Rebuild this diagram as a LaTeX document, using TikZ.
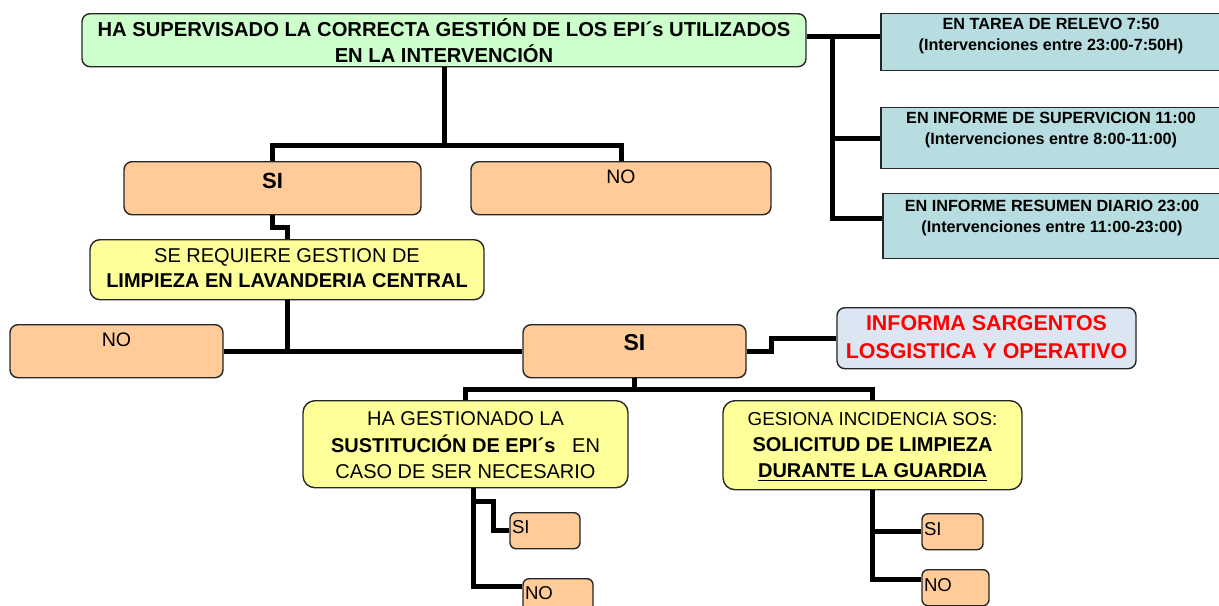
\documentclass[tikz,border=0pt]{standalone}
\usepackage{fontspec}
\setmainfont{Liberation Sans}
\usepackage{tikz}
\definecolor{boxgreen}{HTML}{CCFFCC}
\definecolor{boxorange}{HTML}{FFCC99}
\definecolor{boxyellow}{HTML}{FFFF99}
\definecolor{boxteal}{HTML}{B7DDE1}
\definecolor{boxblue}{HTML}{DCE6F2}

\begin{document}
\begin{tikzpicture}[x=0.5pt,y=-0.5pt,
  box/.style={draw=black!85,line width=0.7pt,anchor=north,inner ysep=0pt,inner xsep=0pt},
  greenbox/.style={box,fill=boxgreen,rounded corners=4pt},
  tealbox/.style={box,fill=boxteal},
  orangebox/.style={box,fill=boxorange,rounded corners=4pt},
  yellowbox/.style={box,fill=boxyellow,rounded corners=6pt},
  infobox/.style={box,fill=boxblue,rounded corners=4pt},
  smallbox/.style={box,fill=boxorange,rounded corners=3pt,inner xsep=1pt,align=left,font=\fontsize{9.3}{11}\selectfont},
  link/.style={line width=2.5pt}]
\useasboundingbox (0,0) rectangle (1219,605);

\draw (444,13) node (11) [greenbox, minimum width=362pt, text height=11.5pt, text depth=15pt,
  font=\bfseries\fontsize{10.1}{13}\selectfont]
  {\begin{tabular}[t]{@{}c@{}}HA SUPERVISADO LA CORRECTA GESTIÓN DE LOS EPI´s UTILIZADOS\\EN LA INTERVENCIÓN\end{tabular}};

\draw (1051,13) node (12) [tealbox, minimum width=170pt, text height=8pt, text depth=20.5pt,
  font=\bfseries\fontsize{8.1}{10.5}\selectfont]
  {\begin{tabular}[t]{@{}c@{}}EN TAREA DE RELEVO 7:50\\(Intervenciones entre 23:00-7:50H)\end{tabular}};
\draw (1051,107) node (13) [tealbox, minimum width=170pt, text height=8pt, text depth=22.5pt,
  font=\bfseries\fontsize{8.1}{10.5}\selectfont]
  {\begin{tabular}[t]{@{}c@{}}EN INFORME DE SUPERVICION 11:00\\(Intervenciones entre 8:00-11:00)\end{tabular}};
\draw (1052,193) node (14) [tealbox, minimum width=169pt, text height=9pt, text depth=23.5pt,
  font=\bfseries\fontsize{8.1}{10.5}\selectfont]
  {\begin{tabular}[t]{@{}c@{}}EN INFORME RESUMEN DIARIO 23:00\\(Intervenciones entre 11:00-23:00)\end{tabular}};

\coordinate (19) at ([yshift=1.75pt]11.east);
\coordinate (18) at ([xshift=13pt]19);
\draw[link] (19) -- (19 -| 12.west);
\draw[link] (18) |- (13.west);
\draw[link] (18) |- ([yshift=3.75pt]14.west);

\draw (272.5,161) node (21) [orangebox, minimum width=148.5pt, text height=13.5pt, text depth=13pt,
  font=\bfseries\fontsize{11}{13}\selectfont] {SI};
\draw (621,161) node (22) [orangebox, minimum width=150pt, text height=11pt, text depth=15.5pt,
  font=\fontsize{9.7}{11}\selectfont] {NO};

\coordinate (29) at ([yshift=-39pt]11.south);
\draw[link] (11.south) -- (29);
\draw[link] (21.north) |- (29) -| (22.north);

\draw (287,239) node (31) [yellowbox, rounded corners=5pt, minimum width=197pt, text height=11.5pt, text depth=18.5pt,
  font=\fontsize{10}{12.5}\selectfont]
  {\begin{tabular}[t]{@{}c@{}}SE REQUIERE GESTION DE\\\textbf{LIMPIEZA EN LAVANDERIA CENTRAL}\end{tabular}};
\draw[link] (21.south) -- ++(0,12) -| (31.north);

\draw (116.5,324) node (41) [orangebox, minimum width=106.5pt, text height=11pt, text depth=15.5pt,
  font=\fontsize{9.8}{11}\selectfont] {NO};
\draw (634.5,324) node (42) [orangebox, minimum width=111.5pt, text height=13pt, text depth=13.5pt,
  font=\bfseries\fontsize{11.5}{13}\selectfont] {SI};
\draw (986.5,307) node (43) [infobox, minimum width=149.5pt, text height=11.5pt, text depth=19pt,
  font=\bfseries\fontsize{10.7}{14}\selectfont, text=red]
  {\begin{tabular}[t]{@{}c@{}}INFORMA SARGENTOS\\LOSGISTICA Y OPERATIVO\end{tabular}};

\draw[link] (41.east) -- (42.west);
\draw[link] (31.south) -- (31.south |- 41.east);
\draw[link] (42.east) -- ++(25,0) |- (43.west);

\draw (465.5,400) node (51) [yellowbox, minimum width=162.5pt, text height=12.5pt, text depth=31pt,
  font=\fontsize{10}{13.25}\selectfont]
  {\begin{tabular}[t]{@{}c@{}}HA GESTIONADO LA\\\textbf{SUSTITUCIÓN DE EPI´s}\ \ \ EN\\CASO DE SER NECESARIO\end{tabular}};
\draw (872.5,400) node (52) [yellowbox, minimum width=149.5pt, text height=12.5pt, text depth=32pt,
  font=\fontsize{10}{13}\selectfont]
  {\begin{tabular}[t]{@{}c@{}}{\fontsize{9.4}{13}\selectfont GESIONA INCIDENCIA SOS:}\\\textbf{SOLICITUD DE LIMPIEZA}\\\textbf{\underline{DURANTE LA GUARDIA}}\end{tabular}};

\coordinate (49) at ([yshift=-5.5pt]42.south);
\draw[link] (42.south) -- (49);
\draw[link] (51.north) |- (49) -| (52.north);

\draw (545,512) node (61) [smallbox, text width=33pt, text height=10.5pt, text depth=7.5pt] {SI};
\draw (558,578) node (62) [smallbox, text width=33pt, text height=10.5pt, text depth=7.5pt] {NO};
\draw (952.5,513) node (63) [smallbox, text width=28.5pt, text height=11pt, text depth=7pt] {SI};
\draw (955.5,569) node (64) [smallbox, text width=31.5pt, text height=11pt, text depth=7pt] {NO};

\coordinate (59) at ([xshift=3.75pt,yshift=-6.5pt]51.south);
\draw[link] ([xshift=3.75pt]51.south) |- ([yshift=-4pt]62.north west);
\draw[link] (59) -- ++(20,0) |- (61.west);
\draw[link] (52.south) |- (63.west);
\draw[link] (52.south) |- ([yshift=-5pt]64.north west);
\end{tikzpicture}
\end{document}
